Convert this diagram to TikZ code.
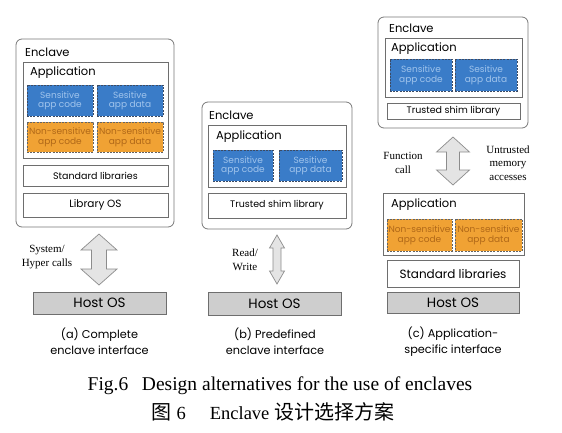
\documentclass[tikz,border=0pt]{standalone}
\usepackage{fontspec}
\setmainfont{Poppins}
\newfontfamily\timesfont{Liberation Serif}
\newfontfamily\cjkfont{Noto Sans CJK SC}
\definecolor{encgray}{RGB}{120,120,120}
\definecolor{boxgray}{RGB}{110,110,110}
\definecolor{sensblue}{RGB}{58,124,200}
\definecolor{senstext}{RGB}{160,196,236}
\definecolor{dashblue}{RGB}{60,75,100}
\definecolor{nonsorange}{RGB}{240,162,52}
\definecolor{nonstext}{RGB}{176,104,24}
\definecolor{dashgray}{RGB}{100,100,100}
\definecolor{hostgray}{RGB}{206,206,206}
\definecolor{arrowfill}{RGB}{228,228,228}
\definecolor{arrowdraw}{RGB}{140,140,140}
\tikzset{
  encbox/.style={draw=encgray, line width=0.8pt, rounded corners=6pt, inner sep=0pt},
  layer/.style={draw=boxgray, line width=0.7pt, fill=white, inner sep=0pt,
    font=\fontsize{9.5}{11}\selectfont},
  sens/.style={fill=sensblue, draw=dashblue, line width=0.8pt, dash pattern=on 2pt off 1.2pt,
    text=senstext, align=center, inner sep=0pt, font=\fontsize{9}{9.5}\selectfont},
  nons/.style={sens, fill=nonsorange, draw=dashgray, text=nonstext},
  hostos/.style={draw=boxgray, line width=0.7pt, fill=hostgray, inner sep=0pt,
    font=\fontsize{13.5}{14}\selectfont},
  boxtitle/.style={anchor=west, inner sep=0pt, font=\fontsize{11.5}{12}\selectfont},
  callnote/.style={align=center, inner sep=0pt, font=\timesfont\fontsize{11}{13.5}\selectfont},
  subcap/.style={align=center, inner sep=0pt, font=\fontsize{11.3}{16}\selectfont},
  figcap/.style={inner sep=0pt, font=\timesfont\fontsize{19.5}{20}\selectfont},
  arrowshape/.style={fill=arrowfill, draw=arrowdraw, line width=0.7pt, line join=miter}
}
% x, y top, y bottom, half head, half shaft, head length
\newcommand{\dblarrow}[6]{%
  \draw[arrowshape] (#1,#2) -- (#1+#4,#2+#6) -- (#1+#5,#2+#6) -- (#1+#5,#3-#6)
    -- (#1+#4,#3-#6) -- (#1,#3) -- (#1-#4,#3-#6) -- (#1-#5,#3-#6)
    -- (#1-#5,#2+#6) -- (#1-#4,#2+#6) -- cycle;}
\begin{document}
\begin{tikzpicture}[x=1pt,y=-1pt]
\useasboundingbox (0,0) rectangle (562,432);

% (a) complete enclave interface
\node[encbox, minimum width=158pt, minimum height=188pt] (encA) at (95,133) {};
\node[boxtitle] at (25,52) {Enclave};
\node[layer, minimum width=145pt, minimum height=96pt] (appA) at (95.5,110) {};
\node[boxtitle] at (30,73) {Application};
\node[sens, minimum width=66pt, minimum height=31pt] (scodeA) at (60,100.5) {Sensitive\\app code};
\node[sens, minimum width=66pt, minimum height=31pt] (sdataA) at (130,100.5) {Sesitive\\app data};
\node[nons, minimum width=66pt, minimum height=30pt] (ncodeA) at (60,137) {Non-sensitive\\app code};
\node[nons, minimum width=66pt, minimum height=30pt] (ndataA) at (130,137) {Non-sensitive\\app data};
\node[layer, minimum width=145pt, minimum height=21pt] (stdA) at (95.5,175.5) {Standard libraries};
\node[layer, minimum width=145pt, minimum height=24pt, font=\fontsize{10.5}{11}\selectfont] (losA) at (95.5,205) {Library OS};
\node[hostos, minimum width=133pt, minimum height=22pt] (hostA) at (99.5,303) {Host OS};
\dblarrow{99}{234}{285}{18}{7.5}{16}
\node[callnote] (callA) at (47,257) {System/\\Hyper calls};
\node[subcap] (capA) at (99.5,341) {(a) Complete\\enclave interface};

% (b) predefined enclave interface
\node[encbox, minimum width=150pt, minimum height=127pt] (encB) at (277,165.5) {};
\node[boxtitle] at (209,115) {Enclave};
\node[layer, minimum width=138pt, minimum height=62pt] (appB) at (277,156) {};
\node[boxtitle] at (216,137) {Application};
\node[sens, minimum width=60pt, minimum height=31pt] (scodeB) at (243,165.5) {Sensitive\\app code};
\node[sens, minimum width=63pt, minimum height=31pt] (sdataB) at (310.5,165.5) {Sesitive\\app data};
\node[layer, minimum width=138pt, minimum height=25pt] (shimB) at (277,205.5) {Trusted shim library};
\node[hostos, minimum width=133pt, minimum height=23pt] (hostB) at (274.5,303.5) {Host OS};
\dblarrow{277}{235}{284}{7.5}{4}{13}
\node[callnote] (callB) at (245,260) {Read/\\Write};
\node[subcap] (capB) at (275,341) {(b) Predefined\\enclave interface};

% (c) application-specific interface
\node[encbox, minimum width=150pt, minimum height=111pt] (encC) at (453,72.5) {};
\node[boxtitle] at (389,28) {Enclave};
\node[layer, minimum width=137pt, minimum height=59pt] (appC) at (453.5,67.5) {};
\node[boxtitle] at (391,49) {Application};
\node[sens, minimum width=62pt, minimum height=32pt] (scodeC) at (421,75) {Sensitive\\app code};
\node[sens, minimum width=62pt, minimum height=32pt] (sdataC) at (486,75) {Sesitive\\app data};
\node[layer, minimum width=133pt, minimum height=16pt] (shimC) at (453.5,111) {Trusted shim library};
\dblarrow{453}{137}{185}{16.5}{6.5}{15}
\node[callnote] (callC) at (403,163) {Function\\call};
\node[callnote] (memC) at (508,163) {Untrusted\\memory\\accesses};
\node[layer, minimum width=141pt, minimum height=62pt] (appD) at (453.5,224) {};
\node[boxtitle] at (391,205) {Application};
\node[nons, minimum width=65pt, minimum height=32pt] (ncodeD) at (419.5,235) {Non-sensitive\\app code};
\node[nons, minimum width=67pt, minimum height=32pt] (ndataD) at (488.5,235) {Non-sensitive\\app data};
\node[layer, minimum width=132pt, minimum height=27pt, font=\fontsize{12}{12}\selectfont] (stdD) at (453,273.5) {Standard libraries};
\node[hostos, minimum width=132pt, minimum height=21pt] (hostC) at (453,302.5) {Host OS};
\node[subcap] (capC) at (453,342) {(c) Application-\\specific interface};

% figure caption
\node[figcap] (figen) at (280,386)
  {Fig.6\hspace{0.7em}Design alternatives for the use of enclaves};
\node[figcap, font=\timesfont\fontsize{18.5}{19}\selectfont] (figcn) at (273,412)
  {{\cjkfont\fontsize{20}{20}\selectfont 图}~6\hspace{1.3em}Enclave {\cjkfont\fontsize{20}{20}\selectfont 设计选择方案}};
\end{tikzpicture}
\end{document}
